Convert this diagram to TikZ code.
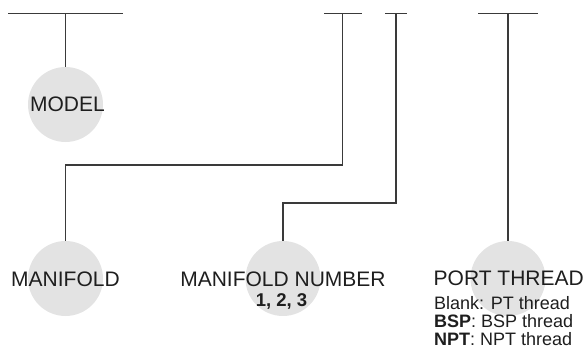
\documentclass[tikz,border=0pt]{standalone}
\usepackage{fontspec}
\setmainfont{Liberation Sans}
\definecolor{bubblegray}{HTML}{E3E3E3}
\definecolor{linegray}{HTML}{3A3A3A}
\definecolor{textgray}{HTML}{1E1E1E}
\begin{document}
\begin{tikzpicture}[x=1pt,y=-1pt,
  bubble/.style={circle,fill=bubblegray,draw=none,minimum size=75pt,inner sep=0pt},
  wire/.style={draw=linegray,line width=1.2pt},
  mainlabel/.style={font=\fontsize{21}{25}\selectfont,text=textgray,inner sep=0pt,anchor=base},
  sublabel/.style={font=\fontsize{18}{18}\selectfont,text=textgray,inner sep=0pt,anchor=base west}
]
\useasboundingbox (0,0) rectangle (587,349);

% bubbles
\node[bubble] (model) at (65.5,104.5) {};
\node[bubble] (manifold) at (65.5,278.5) {};
\node[bubble] (mnum) at (283,278.5) {};
\node[bubble] (port) at (508,278.5) {};

% top bars
\coordinate (b1l) at (8,13.5);   \coordinate (b1r) at (123,13.5);  \coordinate (s1) at (65.5,13.5);
\coordinate (b2l) at (324,13.5); \coordinate (b2r) at (362,13.5);  \coordinate (s2) at (342.5,13.5);
\coordinate (b3l) at (385,13.5); \coordinate (b3r) at (406.5,13.5);\coordinate (s3) at (396,13.5);
\coordinate (b4l) at (478,13.5); \coordinate (b4r) at (538,13.5);  \coordinate (s4) at (508,13.5);

\draw[wire] (b1l) -- (b1r);
\draw[wire] (b2l) -- (b2r);
\draw[wire] (b3l) -- (b3r);
\draw[wire] (b4l) -- (b4r);

% connectors
\draw[wire] (s1) -- (model.north);
\draw[wire] (s2) -- ++(0,151.5) -| (manifold.north);
\draw[wire] (s3) -- ++(0,189.5) -| (mnum.north);
\draw[wire] (s4) -- (port.north);

% labels
\node[mainlabel] (tmodel) at (67.5,111.5) {MODEL};
\node[mainlabel] (tmanifold) at (65.5,286) {MANIFOLD};
\node[mainlabel] (tmnum) at (283,286.5) {MANIFOLD NUMBER};
\node[mainlabel,font=\fontsize{18.5}{18.5}\selectfont\bfseries] (tnums) at (281.5,306) {1, 2, 3};
\node[mainlabel,anchor=base west] (tport) at (433.5,285.5) {PORT THREAD};
\node[sublabel] (tblank) at (434,309.5) {Blank: PT thread};
\node[sublabel] (tbsp) at (434,327.5) {\textbf{BSP}: BSP thread};
\node[sublabel] (tnpt) at (434,345.5) {\textbf{NPT}: NPT thread};
\end{tikzpicture}
\end{document}
